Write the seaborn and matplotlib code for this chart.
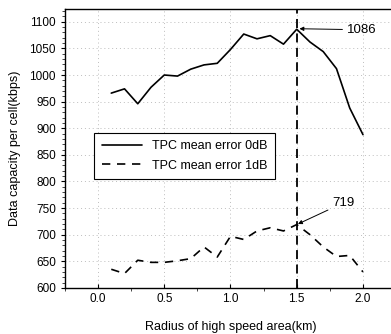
import numpy as np
import pandas as pd
import seaborn as sns
import matplotlib.pyplot as plt
from matplotlib.ticker import MultipleLocator

# radius of high speed area (km)
radius = [0.1, 0.2, 0.3, 0.4, 0.5, 0.6, 0.7, 0.8, 0.9, 1.0,
          1.1, 1.2, 1.3, 1.4, 1.5, 1.6, 1.7, 1.8, 1.9, 2.0]
# data capacity per cell (kbps)
cap_0db = [966, 974, 946, 977, 1000, 998, 1011, 1019, 1022, 1048,
           1077, 1068, 1074, 1058, 1086, 1062, 1044, 1012, 938, 888]
cap_1db = [635, 627, 652, 648, 648, 651, 655, 677, 658, 697,
           691, 707, 713, 707, 719, 700, 677, 659, 661, 630]
series_names = ['TPC mean error 0dB', 'TPC mean error 1dB']

df = pd.DataFrame({
    'radius': radius * 2,
    'capacity': cap_0db + cap_1db,
    'series': [series_names[0]] * len(radius) + [series_names[1]] * len(radius),
})

sns.set_style('ticks')
plt.rcParams['font.family'] = ['Liberation Sans Narrow', 'Liberation Sans', 'DejaVu Sans']
plt.rcParams['text.color'] = 'black'
plt.rcParams['axes.labelcolor'] = 'black'

fig = plt.figure(figsize=(3.91, 3.34), dpi=100)
ax = fig.add_axes([0.166, 0.138, 0.847, 0.835])

sns.lineplot(data=df, x='radius', y='capacity', style='series',
             dashes={series_names[0]: '', series_names[1]: (5, 4)},
             color='black', linewidth=1.2, ax=ax)

ax.axvline(1.5, color='black', linestyle=(0, (5, 3)), linewidth=1.3)

ax.set_xlim(-0.25, 2.25)
ax.set_ylim(600, 1124)
ax.xaxis.set_major_locator(MultipleLocator(0.5))
ax.xaxis.set_minor_locator(MultipleLocator(0.25))
ax.yaxis.set_major_locator(MultipleLocator(50))
ax.yaxis.set_minor_locator(MultipleLocator(10))
ax.tick_params(axis='both', labelsize=8.5, width=0.8, length=3, colors='black')
ax.tick_params(axis='both', which='minor', length=2, width=0.6)
ax.tick_params(axis='x', direction='in')
ax.tick_params(axis='y', direction='out')
ax.xaxis.set_major_formatter(plt.FuncFormatter(lambda v, p: f'{v:.1f}'))
ax.grid(True, which='major', linestyle=(0, (1, 3)), color='#bdbdbd', linewidth=0.7)
for s in ax.spines.values():
    s.set_linewidth(1.0)
    s.set_color('black')

ax.set_xlabel('Radius of high speed area(km)', fontsize=9, labelpad=12)
ax.set_ylabel('Data capacity per cell(kbps)', fontsize=9, labelpad=6)

ax.annotate('1086', xy=(1.51, 1087), xytext=(1.88, 1085), fontsize=9.5,
            va='center', ha='left',
            arrowprops=dict(arrowstyle='-|>', color='black', lw=0.7,
                            mutation_scale=6, shrinkA=1, shrinkB=1))
ax.annotate('719', xy=(1.5, 719), xytext=(1.77, 760), fontsize=9.5,
            va='center', ha='left',
            arrowprops=dict(arrowstyle='-|>', color='black', lw=0.7,
                            mutation_scale=6, shrinkA=1, shrinkB=1))

leg = ax.legend(loc='upper left', bbox_to_anchor=(0.088, 0.556),
                fontsize=9, frameon=True, fancybox=False, framealpha=1,
                handlelength=3.2, borderpad=0.6, labelspacing=0.6,
                borderaxespad=0)
leg.get_frame().set_edgecolor('black')
leg.get_frame().set_linewidth(0.8)
for t in leg.get_texts():
    t.set_color('black')

fig.savefig('out.png', dpi=100)
